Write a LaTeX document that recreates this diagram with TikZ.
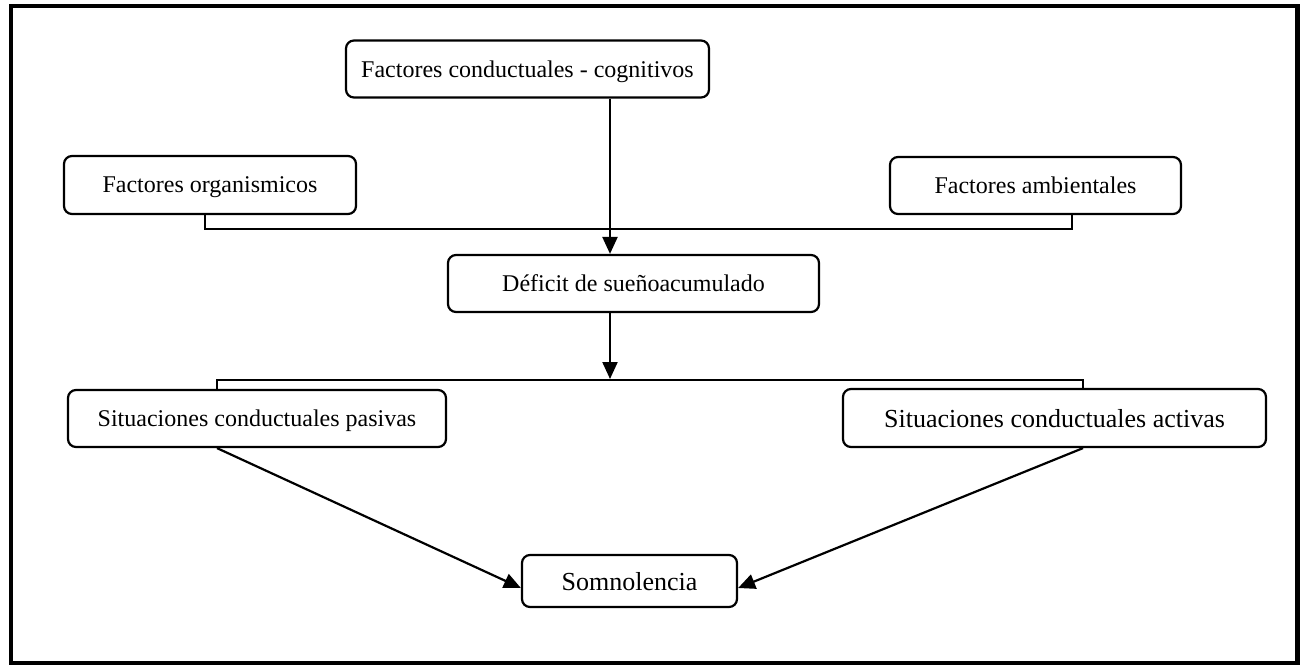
\documentclass[tikz,border=0pt]{standalone}
\usepackage{fontspec}
\setmainfont{Liberation Serif}
\usetikzlibrary{arrows.meta}

\begin{document}
\begin{tikzpicture}[x=0.5pt,y=-0.5pt,
    box/.style={draw,line width=1.1pt,rounded corners=4pt,inner sep=0pt,text depth=0pt,font=\fontsize{12}{14}\selectfont},
    bigbox/.style={box,font=\fontsize{13}{15}\selectfont},
    arr/.style={line width=1.1pt,-{Triangle[length=8.5pt,width=7.5pt]}},
    bracket/.style={line width=0.75pt}]
      \useasboundingbox (0,0) rectangle (1306,665);
      \draw[line width=2.25pt] (11,6) rectangle (1297.5,663);

      \node[box,minimum width=181.5pt,minimum height=28.5pt] (conduct) at (527.5,69) {Factores conductuales - cognitivos};
      \node[box,minimum width=146pt,minimum height=29pt] (organ) at (210,185) {Factores organismicos};
      \node[box,minimum width=145.5pt,minimum height=28.5pt] (ambient) at (1035.5,185.5) {Factores ambientales};
      \node[box,minimum width=185.5pt,minimum height=28.5pt] (deficit) at (633.5,283.5) {Déficit de sueñoacumulado};
      \node[box,minimum width=189pt,minimum height=28.5pt] (pasivas) at (257,418.5) {Situaciones conductuales pasivas};
      \node[bigbox,minimum width=211.5pt,minimum height=29pt] (activas) at (1054.5,418) {Situaciones conductuales activas};
      \node[bigbox,minimum width=107.5pt,minimum height=26pt] (somno) at (629.5,581) {Somnolencia};

      \coordinate (axis) at (610,0);
      \coordinate (lowbar) at (0,379);

      \draw[bracket] ([xshift=-2.5pt]organ.south) -- ++(0,-7pt) -| ([xshift=18.25pt]ambient.south);
      \draw[bracket] ([xshift=-20pt]pasivas.north) -- ++(0,4.5pt) -| ([xshift=14.25pt]activas.north);

      \draw[arr] (conduct.south -| axis) -- (deficit.north -| axis);
      \draw[arr] (deficit.south -| axis) -- (axis |- lowbar);
      \draw[arr] ([xshift=-20pt]pasivas.south) -- ([yshift=-3.5pt]somno.west);
      \draw[arr] ([xshift=14.25pt]activas.south) -- ([yshift=-3.5pt]somno.east);
\end{tikzpicture}
\end{document}
